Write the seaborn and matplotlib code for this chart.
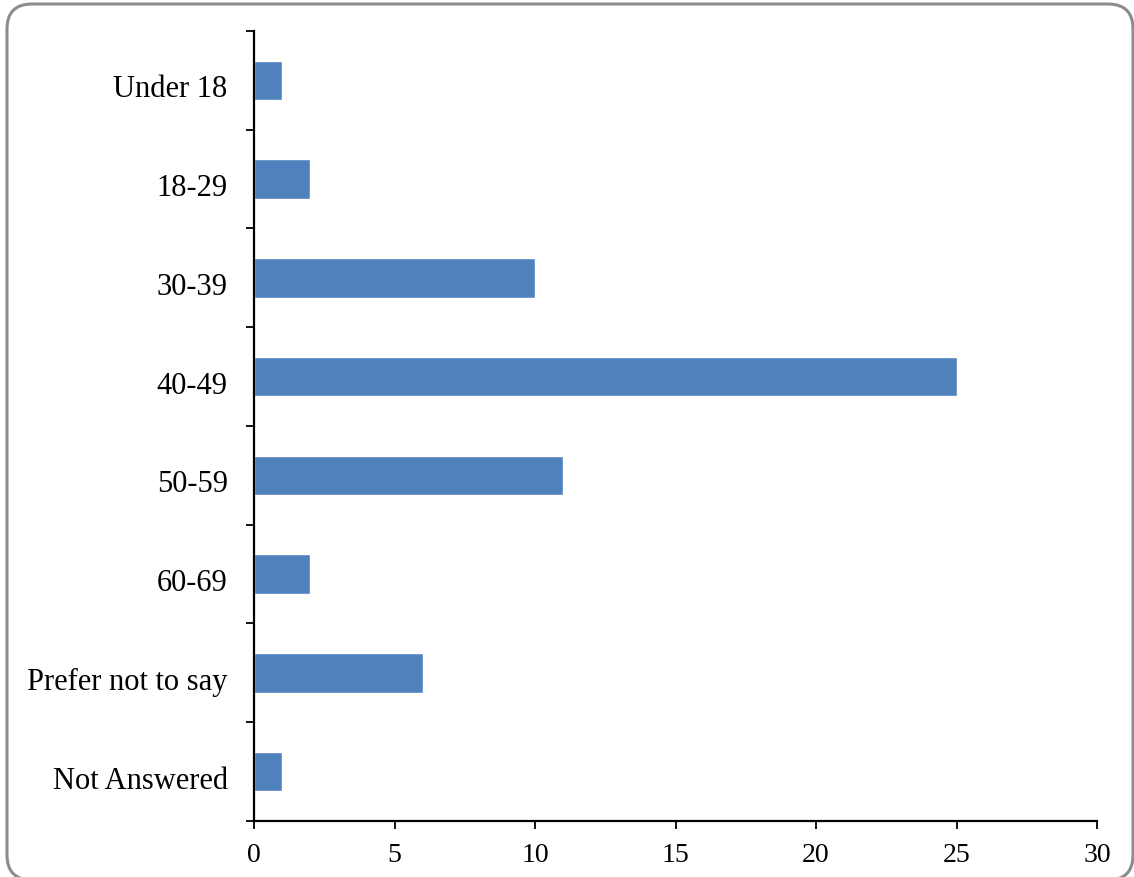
import matplotlib
matplotlib.use("Agg")
import matplotlib.pyplot as plt
import matplotlib.transforms as mtransforms
from matplotlib.patches import FancyBboxPatch
import seaborn as sns
import pandas as pd
import numpy as np

# age groups and counts
age_groups = ["Under 18", "18-29", "30-39", "40-49", "50-59", "60-69",
              "Prefer not to say", "Not Answered"]
counts = [1, 2, 10, 25, 11, 2, 6, 1]
x_ticks = [0, 5, 10, 15, 20, 25, 30]

df = pd.DataFrame({"Age": age_groups, "Count": counts})

sns.set_style("white")
plt.rcParams["font.family"] = ["Liberation Serif", "DejaVu Serif"]
plt.rcParams["text.color"] = "black"
plt.rcParams["xtick.color"] = "black"
plt.rcParams["ytick.color"] = "black"

fig = plt.figure(figsize=(11.34, 8.78), dpi=100)
ax = fig.add_axes([0.224, 0.0638, 0.7434, 0.8998])

sns.barplot(data=df, y="Age", x="Count", orient="h", color="#4F81BD",
            width=0.4, saturation=1, ax=ax)

ax.set_xlim(0, 30)
ax.set_ylim(len(age_groups) - 0.5, -0.5)
ax.set_xticks(x_ticks)
ax.set_xlabel("")
ax.set_ylabel("")

# category boundaries get the tick marks, labels sit centered
ax.set_yticks(np.arange(len(age_groups) + 1) - 0.5, minor=True)
ax.tick_params(axis="y", which="major", length=0, labelsize=22, pad=19,
               labelcolor="black")
ax.tick_params(axis="y", which="minor", length=6, width=1.3,
               direction="out", color="black", left=True)
ax.tick_params(axis="x", length=6, width=1.3, direction="out",
               color="black", bottom=True, labelsize=20, pad=9,
               labelcolor="black")
# labels sit a bit below bar centre in the original
shift = mtransforms.ScaledTranslation(0, -5 / 100, fig.dpi_scale_trans)
for lab in ax.get_yticklabels():
    lab.set_va("center_baseline")
    lab.set_transform(lab.get_transform() + shift)

for side in ["top", "right"]:
    ax.spines[side].set_visible(False)
for side in ["left", "bottom"]:
    ax.spines[side].set_color("black")
    ax.spines[side].set_linewidth(1.6)

# rounded chart-area frame
frame = FancyBboxPatch((7, -3), 1126, 876,
                       boxstyle="round,pad=0,rounding_size=25",
                       transform=None, fill=False, edgecolor="#8c8c8c",
                       linewidth=2.2, zorder=0)
fig.patches.append(frame)

fig.savefig("out.png", dpi=100)
